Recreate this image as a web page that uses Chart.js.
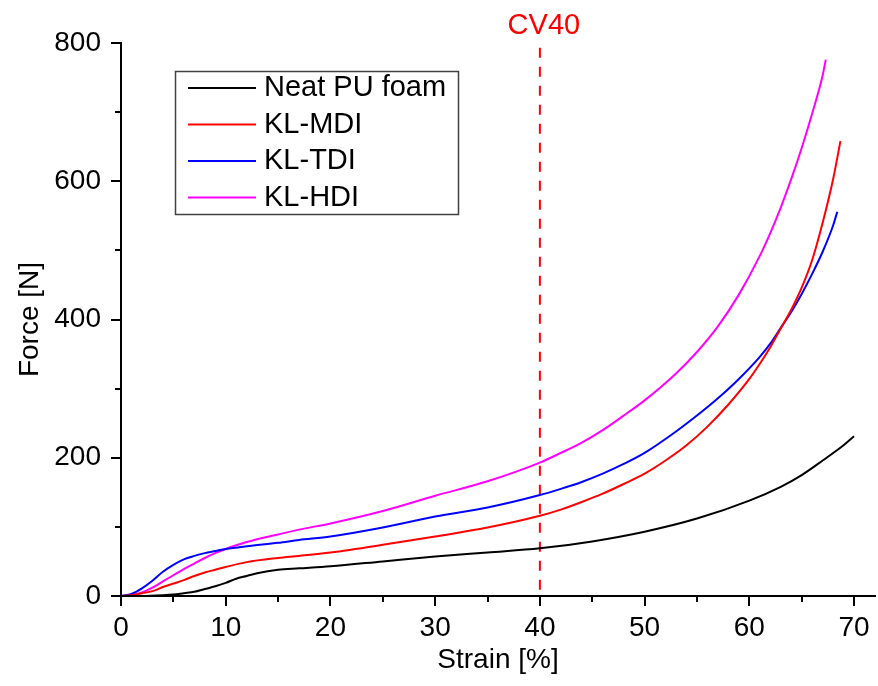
<!DOCTYPE html>
<html>
<head>
<meta charset="utf-8">
<script src="https://cdn.jsdelivr.net/npm/chart.js@4.4.1/dist/chart.umd.min.js"></script>
<style>
  body { margin: 0; background: #fff; }
</style>
</head>
<body>
<canvas id="grafico" width="878" height="686"></canvas>
<script>
// valores (deformacion % / fuerza N)
const neatStrain = [0, 2, 4, 5, 6, 7, 8, 9, 10, 11, 12, 13, 15, 17, 20, 25, 30, 35, 40, 45, 50, 55, 60, 63, 65, 67, 69, 70];
const neatForce  = [0, 0, 1, 2, 4, 6, 10, 14, 19, 25, 29, 33, 38, 40, 43, 50, 57, 63, 69, 79, 93, 112, 138, 158, 175, 196, 218, 231];

const mdiStrain = [0, 1, 2, 3, 4, 5, 6, 7, 8, 9, 10, 12, 15, 17, 20, 25, 30, 35, 40, 42, 44, 46, 48, 50, 52, 54, 56, 58, 60, 61, 62, 63, 64, 65, 66, 67, 68, 68.7];
const mdiForce  = [0, 1, 4, 7, 13, 18, 23, 29, 34, 38, 42, 49, 55, 58, 63, 74, 86, 99, 116, 125, 136, 148, 162, 177, 196, 218, 245, 277, 314, 336, 360, 387, 414, 446, 486, 540, 603, 658];

const tdiStrain = [0, 1, 2, 3, 4, 5, 6, 7, 8, 9, 10, 12, 15, 17, 20, 25, 30, 35, 40, 42, 44, 46, 48, 50, 53, 55, 57, 59, 61, 62, 63, 64, 65, 66, 67, 68, 68.4];
const tdiForce  = [0, 3, 11, 22, 35, 45, 53, 58, 62, 65, 68, 72, 77, 81, 86, 99, 115, 128, 146, 155, 165, 177, 191, 207, 238, 261, 286, 314, 346, 365, 388, 411, 437, 466, 498, 536, 556];

const hdiStrain = [0, 1, 2, 3, 4, 5, 6, 7, 8, 9, 10, 12, 15, 17, 20, 25, 30, 35, 40, 42, 44, 46, 48, 50, 53, 55, 57, 59, 61, 62, 63, 64, 65, 66, 67, 67.3];
const hdiForce  = [0, 1, 5, 12, 21, 30, 39, 47, 55, 62, 68, 78, 89, 96, 105, 123, 145, 166, 193, 207, 222, 240, 261, 283, 322, 353, 390, 436, 492, 525, 562, 603, 648, 698, 753, 776];

const seriesNames  = ["Neat PU foam", "KL-MDI", "KL-TDI", "KL-HDI"];
const seriesColors = ["#000000", "#ff0000", "#0000ff", "#ff00ff"];

const xTicks = [0, 10, 20, 30, 40, 50, 60, 70];
const yTicks = [0, 200, 400, 600, 800];
const xMinor = [5, 15, 25, 35, 45, 55, 65];
const yMinor = [100, 300, 500, 700];

const cvStrain = 40;
const cvLabel = "CV40";

const FONT = "'Liberation Sans', Arial, sans-serif";

function puntos(xs, ys) {
  return xs.map((x, i) => ({ x: x, y: ys[i] }));
}

const curvas = [
  puntos(neatStrain, neatForce),
  puntos(mdiStrain, mdiForce),
  puntos(tdiStrain, tdiForce),
  puntos(hdiStrain, hdiForce)
];

const datasets = curvas.map((d, i) => ({
  label: seriesNames[i],
  data: d,
  borderColor: seriesColors[i],
  borderWidth: 2,
  pointRadius: 0,
  fill: false,
  cubicInterpolationMode: "monotone"
}));

// linea vertical CV40
datasets.push({
  label: cvLabel,
  data: [{ x: cvStrain, y: 793 }, { x: cvStrain, y: 0 }],
  borderColor: "#ff0000",
  borderWidth: 2,
  borderDash: [10, 9],
  pointRadius: 0,
  tension: 0
});

const extras = {
  id: "extras",
  afterDraw(chart) {
    const ctx = chart.ctx;
    const sx = chart.scales.x;
    const sy = chart.scales.y;
    ctx.save();

    // ticks menores
    ctx.strokeStyle = "#000";
    ctx.lineWidth = 2;
    ctx.beginPath();
    xMinor.forEach(v => {
      const px = Math.round(sx.getPixelForValue(v));
      ctx.moveTo(px, sx.top);
      ctx.lineTo(px, sx.top + 6);
    });
    yMinor.forEach(v => {
      const py = Math.round(sy.getPixelForValue(v));
      ctx.moveTo(sy.right, py);
      ctx.lineTo(sy.right - 6, py);
    });
    ctx.stroke();

    // etiqueta CV40
    ctx.fillStyle = "#ff0000";
    ctx.font = "29px " + FONT;
    ctx.textAlign = "center";
    ctx.textBaseline = "middle";
    ctx.fillText(cvLabel, sx.getPixelForValue(cvStrain) + 4, 26);

    // leyenda
    ctx.strokeStyle = "#404040";
    ctx.lineWidth = 1.5;
    ctx.strokeRect(175.5, 71.5, 283, 143);
    ctx.textAlign = "left";
    seriesNames.forEach((name, i) => {
      const yy = 88 + i * 36.5;
      ctx.strokeStyle = seriesColors[i];
      ctx.lineWidth = 2;
      ctx.beginPath();
      ctx.moveTo(188, yy);
      ctx.lineTo(256, yy);
      ctx.stroke();
      ctx.fillStyle = "#000";
      ctx.fillText(name, 264, yy);
    });
    ctx.restore();
  }
};

const ctx = document.getElementById("grafico").getContext("2d");
new Chart(ctx, {
  type: "line",
  data: { datasets: datasets },
  plugins: [extras],
  options: {
    responsive: false,
    devicePixelRatio: 1,
    animation: false,
    layout: { padding: { top: 43, right: 3, left: 0, bottom: 0 } },
    plugins: {
      legend: { display: false },
      tooltip: { enabled: false }
    },
    scales: {
      x: {
        type: "linear",
        min: 0,
        max: 72,
        afterBuildTicks: s => { s.ticks = xTicks.map(v => ({ value: v })); },
        afterFit: s => { s.height = 90; },
        grid: { drawOnChartArea: false, drawTicks: true, tickLength: 10, color: "#000", lineWidth: 2 },
        border: { display: true, color: "#000", width: 2 },
        ticks: { color: "#000", font: { family: FONT, size: 28 }, padding: 5, maxRotation: 0 },
        title: { display: true, text: "Strain [%]", color: "#000", font: { family: FONT, size: 28 }, padding: { bottom: 9 } }
      },
      y: {
        type: "linear",
        min: 0,
        max: 800,
        afterBuildTicks: s => { s.ticks = yTicks.map(v => ({ value: v })); },
        afterFit: s => { s.width = 121; },
        grid: { drawOnChartArea: false, drawTicks: true, tickLength: 10, color: "#000", lineWidth: 2 },
        border: { display: true, color: "#000", width: 2 },
        ticks: { color: "#000", font: { family: FONT, size: 28 }, padding: 10 },
        title: { display: true, text: "Force [N]", color: "#000", font: { family: FONT, size: 28 }, padding: { top: 13 } }
      }
    }
  }
});
</script>
</body>
</html>
